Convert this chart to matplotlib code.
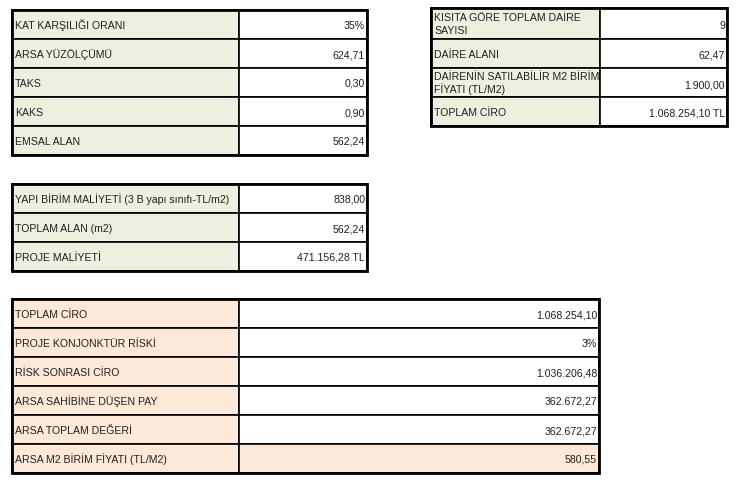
import math
import matplotlib
matplotlib.use("Agg")
import matplotlib.pyplot as plt
from matplotlib.patches import Rectangle

# ---- data ----
t1_labels = ["KAT KARŞILIĞI ORANI", "ARSA YÜZÖLÇÜMÜ", "TAKS", "KAKS", "EMSAL ALAN"]
t1_values = ["35%", "624,71", "0,30", "0,90", "562,24"]

t2_labels = ["KISITA GÖRE TOPLAM DAİRE\nSAYISI", "DAİRE ALANI",
             "DAİRENİN SATILABİLİR M2 BİRİM\nFİYATI (TL/M2)", "TOPLAM CİRO"]
t2_values = ["9", "62,47", "1.900,00", "1.068.254,10 TL"]

t3_labels = ["YAPI BİRİM MALİYETİ (3 B yapı sınıfı-TL/m2)", "TOPLAM ALAN (m2)", "PROJE MALİYETİ"]
t3_values = ["838,00", "562,24", "471.156,28 TL"]

t4_labels = ["TOPLAM CİRO", "PROJE KONJONKTÜR RİSKİ", "RİSK SONRASI CİRO",
             "ARSA SAHİBİNE DÜŞEN PAY", "ARSA TOPLAM DEĞERİ", "ARSA M2 BİRİM FİYATI (TL/M2)"]
t4_values = ["1.068.254,10", "3%", "1.036.206,48", "362.672,27", "362.672,27", "580,55"]

GREEN = "#EBF1DE"
PEACH = "#FDE9D9"
TXT = "#202020"

W, H = 738, 487
fig = plt.figure(figsize=(W / 100, H / 100), dpi=100)
ax = fig.add_axes([0, 0, 1, 1])
ax.set_xlim(0, W)
ax.set_ylim(H, 0)
ax.axis("off")

FONT = dict(family="Liberation Sans", fontsize=7.55, color=TXT)
LINE_GAP = 13.5  # px between lines of a wrapped label


def draw_table(x0, xdiv, x1, row_edges, labels, values, fill, value_fills=None):
    for i, (lab, val) in enumerate(zip(labels, values)):
        ya, yb = row_edges[i], row_edges[i + 1]
        ax.add_patch(Rectangle((x0, ya), xdiv - x0, yb - ya, facecolor=fill,
                               edgecolor="black", linewidth=1.2))
        vf = value_fills[i] if value_fills else "white"
        ax.add_patch(Rectangle((xdiv, ya), x1 - xdiv, yb - ya, facecolor=vf,
                               edgecolor="black", linewidth=1.2))
        yc = (ya + yb) / 2
        lines = lab.split("\n")
        n = len(lines)
        for k, ln in enumerate(lines):
            yl = math.floor(yc + (k - (n - 1) / 2) * LINE_GAP + 4.5)
            ax.text(x0 + 3, yl, ln, ha="left", va="baseline", **FONT)
        ax.text(x1 - 2, math.floor(yc + 4.5 + (1 if n > 1 else 0)), val, ha="right",
                va="baseline", **FONT)
    # outer border
    ax.add_patch(Rectangle((x0, row_edges[0]), x1 - x0, row_edges[-1] - row_edges[0],
                           facecolor="none", edgecolor="black", linewidth=2))


draw_table(12, 239, 367, [10, 39, 68, 97, 126, 155], t1_labels, t1_values, GREEN)
draw_table(431, 600, 727, [8, 39, 68, 97, 126], t2_labels, t2_values, GREEN)
draw_table(12, 239, 367, [184, 213, 242, 271], t3_labels, t3_values, GREEN)
draw_table(12, 239, 599, [299, 328, 357, 386, 415, 444, 473], t4_labels, t4_values, PEACH,
           value_fills=["white"] * 5 + [PEACH])

fig.savefig("out.png", dpi=100)
